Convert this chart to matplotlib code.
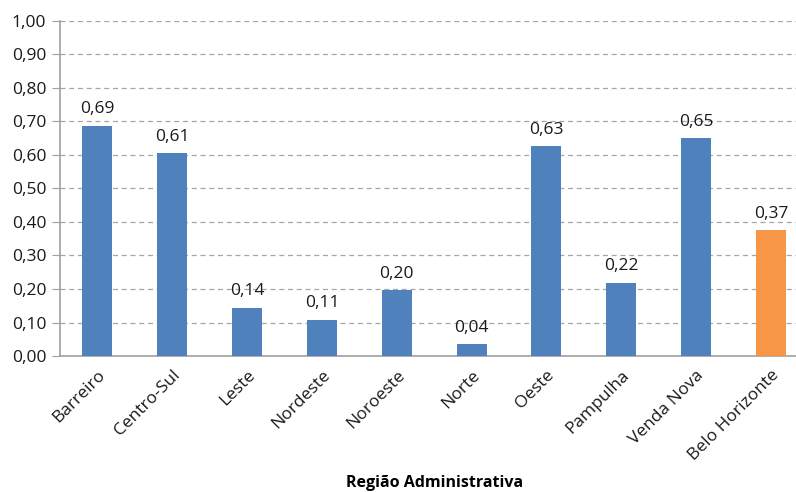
import matplotlib.pyplot as plt

plt.rcParams['font.family'] = ['Open Sans', 'DejaVu Sans']

# regions and index values
regioes = ['Barreiro', 'Centro-Sul', 'Leste', 'Nordeste', 'Noroeste', 'Norte',
           'Oeste', 'Pampulha', 'Venda Nova', 'Belo Horizonte']
valores = [0.687, 0.606, 0.144, 0.108, 0.196, 0.036, 0.627, 0.219, 0.651, 0.375]
rotulos = ['0,69', '0,61', '0,14', '0,11', '0,20', '0,04', '0,63', '0,22', '0,65', '0,37']
cores = ['#4F81BD'] * 9 + ['#F79646']

fig = plt.figure(figsize=(7.96, 4.92), dpi=100)
ax = fig.add_axes([0.0754, 0.2764, 0.94, 0.681])

x = range(len(regioes))
bars = ax.bar(x, valores, width=0.4, color=cores, zorder=3)

for b, txt in zip(bars, rotulos):
    ax.annotate(txt, (b.get_x() + b.get_width() / 2, b.get_height()),
                xytext=(0, 6), textcoords='offset points',
                ha='center', va='bottom', fontsize=12.5, color='#1a1a1a')

ax.set_xlim(-0.5, len(regioes) - 0.5)
ax.set_ylim(0, 1.0)
yt = [i / 10 for i in range(11)]
ax.set_yticks(yt)
ax.set_yticklabels([f'{v:.2f}'.replace('.', ',') for v in yt], fontsize=12.5, color='#1a1a1a')
ax.set_xticks(list(x))
ax.set_xticklabels(regioes, rotation=45, ha='right', rotation_mode='anchor',
                   fontsize=12.5, color='#1a1a1a')
ax.tick_params(axis='x', length=0, pad=8)
ax.tick_params(axis='y', length=6, color='#A0A0A0', pad=4)

ax.grid(axis='y', linestyle=(0, (4, 3)), color='#A6A6A6', linewidth=0.9, zorder=0)
for s in ['top', 'right']:
    ax.spines[s].set_visible(False)
for s in ['left', 'bottom']:
    ax.spines[s].set_color('#A0A0A0')
    ax.spines[s].set_linewidth(1.2)

ax.set_xlabel('Região Administrativa', fontsize=11.5, fontweight='bold')
ax.xaxis.set_label_coords(0.5, -0.355)

fig.savefig('out.png', dpi=100)
